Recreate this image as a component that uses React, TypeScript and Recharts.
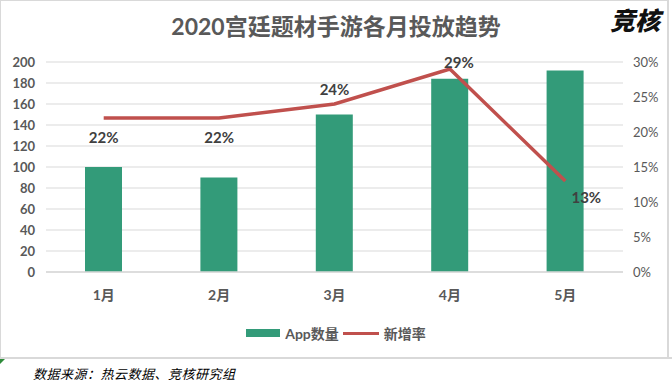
import React from 'react';
import { ComposedChart, Bar, Line, XAxis, YAxis, CartesianGrid, Legend, LabelList } from 'recharts';

const months = ['1月', '2月', '3月', '4月', '5月'];
const appCounts = [100, 90, 150, 184, 192];
const growthRates = [0.22, 0.22, 0.24, 0.29, 0.13];
const leftTicks = [0, 20, 40, 60, 80, 100, 120, 140, 160, 180, 200];
const rightTicks = [0, 0.05, 0.1, 0.15, 0.2, 0.25, 0.3];

const data = months.map((m, i) => ({ month: m, app: appCounts[i], rate: growthRates[i] }));

const FONT = "Lato, 'Noto Sans CJK SC', sans-serif";
const GREEN = '#339B79';
const RED = '#C0504D';
const GRID = '#D9D9D9';
const TEXT = '#595959';

// label placement per point (below, below, above, above-right, right-below)
const LABEL_OFFSETS = [
  { dx: 0, dy: 19 },
  { dx: 0, dy: 19 },
  { dx: 0, dy: -15 },
  { dx: 9, dy: -7 },
  { dx: 21, dy: 16 },
];

const RateLabel = (props: any) => {
  const { x, y, index, value } = props;
  const off = LABEL_OFFSETS[index] || { dx: 0, dy: -12 };
  return (
    <text
      x={x + off.dx}
      y={y + off.dy}
      textAnchor="middle"
      dominantBaseline="central"
      fontFamily={FONT}
      fontWeight={700}
      fontSize={15}
      fill="#404040"
    >
      {Math.round(value * 100)}%
    </text>
  );
};

const LegendContent = () => (
  <div style={{ display: 'flex', alignItems: 'center', justifyContent: 'center', fontFamily: FONT, fontWeight: 700, fontSize: 14, color: TEXT }}>
    <span style={{ display: 'inline-block', width: 34, height: 8, background: GREEN, marginRight: 5 }} />
    <span style={{ marginRight: 4 }}>App数量</span>
    <span style={{ display: 'inline-block', width: 36, height: 3, background: RED, marginRight: 5 }} />
    <span>新增率</span>
  </div>
);

export default function App() {
  return (
    <div style={{ position: 'absolute', left: 0, top: 0, width: 672, height: 385, background: '#fff', overflow: 'hidden' }}>
      <div style={{ position: 'absolute', left: 0, top: 0, width: 669, height: 400, border: '1px solid #D9D9D9', boxSizing: 'border-box', borderRight: '2px solid #D9D9D9' }} />
      <div style={{ position: 'absolute', left: 0, top: 10, width: 672, textAlign: 'center', fontFamily: FONT, fontWeight: 700, fontSize: 23, color: TEXT, lineHeight: '32px' }}>
        2020宫廷题材手游各月投放趋势
      </div>
      <div style={{ position: 'absolute', left: 610, top: 2, fontFamily: "'Noto Sans CJK SC', sans-serif", fontWeight: 900, fontStyle: 'italic', fontSize: 25, color: '#111', lineHeight: '34px' }}>
        竞核
      </div>
      <ComposedChart
        width={672}
        height={385}
        data={data}
        margin={{ top: 62, right: 0, bottom: 53, left: 0 }}
      >
        <CartesianGrid yAxisId="left" vertical={false} stroke={GRID} strokeWidth={1.2} />
        <XAxis
          dataKey="month"
          axisLine={{ stroke: GRID, strokeWidth: 1.5 }}
          tickLine={false}
          tickMargin={12}
          height={40}
          tick={{ fontFamily: FONT, fontWeight: 700, fontSize: 14, fill: TEXT }}
        />
        <YAxis
          yAxisId="left"
          width={46}
          domain={[0, 200]}
          ticks={leftTicks}
          axisLine={false}
          tickLine={false}
          tickMargin={5}
          interval={0}
          tick={{ fontFamily: FONT, fontWeight: 700, fontSize: 13, fill: TEXT }}
        />
        <YAxis
          yAxisId="right"
          orientation="right"
          width={49}
          domain={[0, 0.3]}
          ticks={rightTicks}
          axisLine={false}
          tickLine={false}
          tickMargin={4}
          interval={0}
          tickFormatter={(v: number) => `${Math.round(v * 100)}%`}
          tick={{ fontFamily: FONT, fontSize: 13, fill: TEXT }}
        />
        <Legend
          content={<LegendContent />}
          wrapperStyle={{ position: 'absolute', top: 323, left: 0, width: 672, height: 20 }}
        />
        <Bar yAxisId="left" dataKey="app" name="App数量" fill={GREEN} barSize={37} isAnimationActive={false} />
        <Line yAxisId="right" dataKey="rate" name="新增率" type="linear" stroke={RED} strokeWidth={3.5} dot={false} activeDot={false} isAnimationActive={false}>
          <LabelList dataKey="rate" content={<RateLabel />} />
        </Line>
      </ComposedChart>
      <div style={{ position: 'absolute', left: 0, top: 357, width: 672, height: 2, background: '#D9D9D9' }} />
      <div style={{ position: 'absolute', left: 0, top: 359, width: 672, height: 26, background: '#fff' }} />
      <div style={{ position: 'absolute', left: 0, top: 359, width: 0, height: 0, borderTop: '5px solid #2E8B3A', borderRight: '5px solid transparent' }} />
      <div style={{ position: 'absolute', left: 33, top: 366, fontFamily: "'Noto Sans CJK SC', sans-serif", fontStyle: 'italic', fontSize: 13, letterSpacing: 0.5, color: '#000', lineHeight: '16px' }}>
        数据来源：热云数据、竞核研究组
      </div>
    </div>
  );
}
